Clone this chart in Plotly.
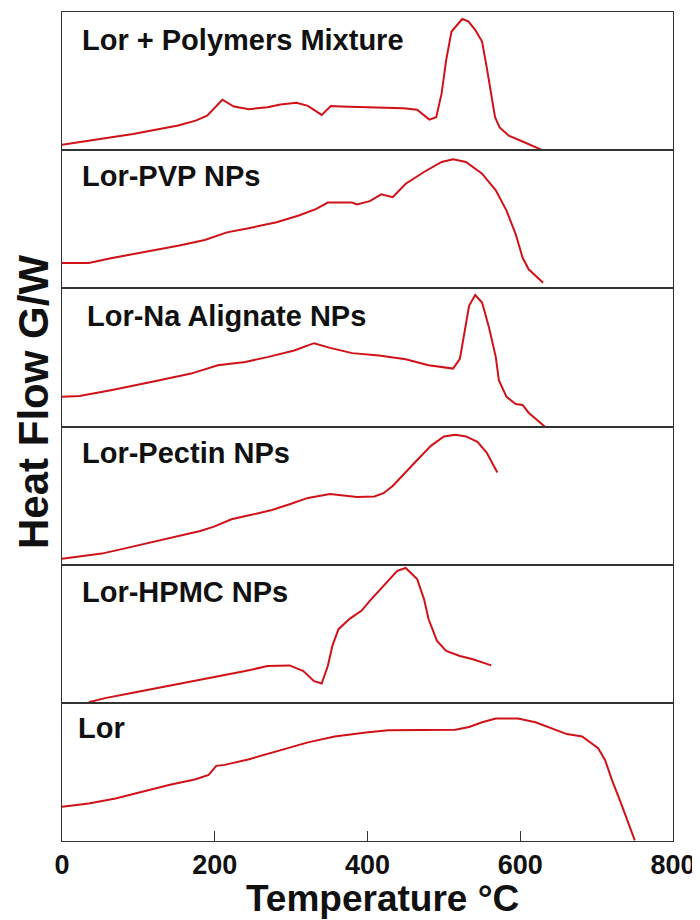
import plotly.graph_objects as go
from plotly.subplots import make_subplots

# ---- data (temperature in °C, heat flow in arbitrary units, 0-100 per panel) ----
labels = ["Lor + Polymers Mixture", "Lor-PVP NPs", "Lor-Na Alignate NPs",
          "Lor-Pectin NPs", "Lor-HPMC NPs", "Lor"]

mix_t = [0, 35, 93, 152, 175, 190, 210, 225, 245, 269, 286, 307, 322, 340, 352, 365, 415, 447, 465, 481, 490,
         497, 503, 510, 524, 532, 541, 550, 556, 562, 567, 573, 585, 603, 629]
mix_h = [3.9, 6.8, 11.7, 17.8, 21.4, 25, 36.5, 31.6, 29.7, 31.1, 33.1, 34.3, 32.1, 25.5, 31.9, 31.6, 30.9, 30.4,
         29.2, 22.1, 23.8, 40.9, 65.2, 85.9, 94.9, 93.2, 87.1, 78.6, 60.3, 40.9, 23.8, 16.5, 10.5, 6.3, 0]

pvp_t = [0, 35, 64, 93, 123, 152, 187, 216, 246, 281, 310, 333, 348, 380, 386, 403, 418, 424, 433, 450, 474,
         497, 512, 529, 550, 568, 582, 594, 603, 611, 620, 630]
pvp_h = [18.4, 18.4, 21.8, 24.8, 27.9, 30.8, 35.0, 40.5, 43.7, 47.8, 52.7, 57.5, 62.1, 62.1, 60.7, 63.1, 68, 67.2,
         66, 75.7, 84.2, 91.5, 93.4, 91.5, 83, 70.9, 56.3, 39.3, 22.3, 13.8, 9, 4.1]

alg_t = [0, 23, 64, 93, 123, 169, 204, 240, 269, 304, 330, 351, 380, 415, 450, 480, 512, 521, 527, 533, 541,
         550, 559, 568, 572, 582, 594, 603, 611, 620, 632]
alg_h = [21.5, 22, 26.3, 29.4, 33, 38.3, 44.3, 46.7, 50.2, 55, 60.3, 56.9, 53.1, 51.4, 48.6, 44.3, 41.9, 49, 69.4,
         87.3, 95.2, 89.7, 71.8, 50.2, 33.5, 21.5, 16.3, 15.6, 10, 6, 0]

pec_t = [0, 29, 52, 81, 117, 152, 181, 199, 222, 245, 275, 298, 322, 351, 369, 386, 409, 421, 433, 441, 462,
         483, 500, 515, 529, 544, 556, 570]
pec_h = [4.3, 6.3, 8, 11.6, 16.4, 20.8, 24.4, 27.5, 32.9, 35.7, 39.6, 43.7, 48.3, 51.2, 50.2, 49, 49.3, 51.7, 57,
         61.8, 73.9, 86, 92.8, 94, 92.8, 88.9, 81.2, 66.7]

hpmc_t = [35, 58, 93, 122, 152, 181, 210, 240, 269, 298, 316, 330, 340, 348, 354, 362, 377, 392, 403, 421, 439,
          450, 465, 474, 480, 491, 503, 521, 538, 562]
hpmc_h = [0.5, 3.6, 7.3, 10.4, 13.3, 16.2, 19.4, 23, 26.6, 27.1, 23, 15.7, 14, 26.6, 41.2, 53.3, 61, 66.6, 73.8,
          84.7, 95.6, 97.6, 89.6, 75.1, 60.5, 44.8, 37.5, 33.9, 31.5, 27.1]

lor_t = [0, 35, 70, 105, 140, 175, 192, 202, 213, 245, 281, 322, 357, 398, 427, 474, 515, 533, 550, 568, 597,
         620, 644, 661, 681, 690, 702, 711, 720, 732, 740, 750]
lor_h = [24.8, 27.2, 30.8, 35.7, 40.5, 44.7, 47.8, 54.4, 55.1, 59.2, 64.8, 71.4, 75.7, 78.6, 80.1, 80.6, 80.6,
         82.5, 85.9, 88.6, 88.6, 85.9, 80.6, 77.4, 75.7, 72.1, 67.2, 58.7, 44.2, 27.2, 15, 0.5]

series = [(mix_t, mix_h), (pvp_t, pvp_h), (alg_t, alg_h), (pec_t, pec_h), (hpmc_t, hpmc_h), (lor_t, lor_h)]
x_ticks = [0, 200, 400, 600, 800]

FONT = "Liberation Sans, Arial, sans-serif"
RED = "#d01218"
INK = "#111111"
label_x = [0.03, 0.03, 0.038, 0.03, 0.03, 0.023]
label_y = [0.80, 0.81, 0.80, 0.81, 0.80, 0.82]

fig = make_subplots(rows=6, cols=1, shared_xaxes=True, vertical_spacing=0)

for i, (t, h) in enumerate(series):
    r = i + 1
    fig.add_trace(go.Scatter(x=t, y=h, mode="lines", line=dict(color=RED, width=2),
                             showlegend=False, hoverinfo="skip"), row=r, col=1)
    fig.update_yaxes(range=[0, 100], showline=True, mirror=True, linecolor="#333333", linewidth=1,
                     showgrid=False, zeroline=False, showticklabels=False, ticks="", row=r, col=1)
    fig.update_xaxes(range=[0, 800], showline=True, mirror=True, linecolor="#333333", linewidth=1,
                     showgrid=False, zeroline=False, ticks="", row=r, col=1)
    xs = "x" if r == 1 else f"x{r}"
    ys = "y" if r == 1 else f"y{r}"
    fig.add_annotation(text=labels[i], xref=f"{xs} domain", yref=f"{ys} domain",
                       x=label_x[i], y=label_y[i], xanchor="left", yanchor="middle", showarrow=False,
                       font=dict(family=FONT, size=29, color=INK, weight="bold"))

fig.update_xaxes(ticks="inside", ticklen=10, tickcolor="#333333", tickvals=x_ticks,
                 showticklabels=True, tickfont=dict(family=FONT, size=27, color=INK, weight="bold"),
                 row=6, col=1)

fig.add_annotation(text="Temperature °C", xref="paper", yref="paper", x=0.524, y=-0.0953,
                   xanchor="center", yanchor="bottom", showarrow=False, borderpad=0,
                   font=dict(family=FONT, size=37, color=INK, weight="bold"))

fig.add_annotation(text="Heat Flow G/W", xref="paper", yref="paper", x=-0.0458, y=0.5296,
                   xanchor="center", yanchor="middle", textangle=-90, showarrow=False,
                   font=dict(family=FONT, size=42, color=INK, weight="bold"))

# page body has an 8px margin, so the figure is sized to fit the 700x920 window
fig.update_layout(width=692, height=912, margin=dict(l=54, r=27, t=4, b=79),
                  paper_bgcolor="white", plot_bgcolor="white")

fig.write_html("out.html")
